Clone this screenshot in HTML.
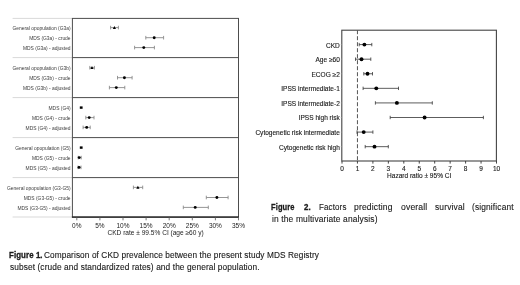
<!DOCTYPE html>
<html><head><meta charset="utf-8"><style>
html,body{margin:0;padding:0;background:#fff;}
body{width:520px;height:285px;overflow:hidden;position:relative;font-family:"Liberation Sans", sans-serif;will-change:transform;}
svg{position:absolute;left:0;top:0;font-family:"Liberation Sans", sans-serif;}
.cap{position:absolute;white-space:nowrap;font-size:8.3px;letter-spacing:0.1px;color:#1a1a1a;-webkit-text-stroke:0.12px #1a1a1a;line-height:1;transform-origin:0 0;}
.f2{font-size:8.9px;letter-spacing:0.15px;}
.cap b{font-weight:bold;-webkit-text-stroke:0.3px #1a1a1a;}
.w{position:absolute;white-space:nowrap;font-size:8.3px;color:#1a1a1a;line-height:1;}
</style></head><body>
<svg width="520" height="285" viewBox="0 0 520 285">
<line x1="12.6" y1="18.4" x2="72.4" y2="18.4" stroke="#d9d9d9" stroke-width="1"/>
<line x1="12.6" y1="57.6" x2="72.4" y2="57.6" stroke="#d9d9d9" stroke-width="1"/>
<line x1="12.6" y1="97.6" x2="72.4" y2="97.6" stroke="#d9d9d9" stroke-width="1"/>
<line x1="12.6" y1="137.6" x2="72.4" y2="137.6" stroke="#d9d9d9" stroke-width="1"/>
<line x1="12.6" y1="177.6" x2="72.4" y2="177.6" stroke="#d9d9d9" stroke-width="1"/>
<line x1="12.6" y1="217.0" x2="72.4" y2="217.0" stroke="#d9d9d9" stroke-width="1"/>
<rect x="72.4" y="18.4" width="166.1" height="198.6" fill="none" stroke="#4d4d4d" stroke-width="1"/>
<line x1="71.9" y1="217.0" x2="239.0" y2="217.0" stroke="#1e1e1e" stroke-width="1.25"/>
<line x1="72.4" y1="57.6" x2="238.5" y2="57.6" stroke="#4d4d4d" stroke-width="1"/>
<line x1="72.4" y1="97.6" x2="238.5" y2="97.6" stroke="#4d4d4d" stroke-width="1"/>
<line x1="72.4" y1="137.6" x2="238.5" y2="137.6" stroke="#4d4d4d" stroke-width="1"/>
<line x1="72.4" y1="177.6" x2="238.5" y2="177.6" stroke="#4d4d4d" stroke-width="1"/>
<line x1="76.80" y1="217.0" x2="76.80" y2="220.3" stroke="#555" stroke-width="0.8"/>
<text x="76.80" y="227.9" font-size="6.5" text-anchor="middle" fill="#222">0%</text>
<line x1="99.90" y1="217.0" x2="99.90" y2="220.3" stroke="#555" stroke-width="0.8"/>
<text x="99.90" y="227.9" font-size="6.5" text-anchor="middle" fill="#222">5%</text>
<line x1="123.00" y1="217.0" x2="123.00" y2="220.3" stroke="#555" stroke-width="0.8"/>
<text x="123.00" y="227.9" font-size="6.5" text-anchor="middle" fill="#222">10%</text>
<line x1="146.10" y1="217.0" x2="146.10" y2="220.3" stroke="#555" stroke-width="0.8"/>
<text x="146.10" y="227.9" font-size="6.5" text-anchor="middle" fill="#222">15%</text>
<line x1="169.20" y1="217.0" x2="169.20" y2="220.3" stroke="#555" stroke-width="0.8"/>
<text x="169.20" y="227.9" font-size="6.5" text-anchor="middle" fill="#222">20%</text>
<line x1="192.30" y1="217.0" x2="192.30" y2="220.3" stroke="#555" stroke-width="0.8"/>
<text x="192.30" y="227.9" font-size="6.5" text-anchor="middle" fill="#222">25%</text>
<line x1="215.40" y1="217.0" x2="215.40" y2="220.3" stroke="#555" stroke-width="0.8"/>
<text x="215.40" y="227.9" font-size="6.5" text-anchor="middle" fill="#222">30%</text>
<line x1="238.50" y1="217.0" x2="238.50" y2="220.3" stroke="#555" stroke-width="0.8"/>
<text x="238.50" y="227.9" font-size="6.5" text-anchor="middle" fill="#222">35%</text>
<text x="155.6" y="235.2" font-size="6.57" text-anchor="middle" fill="#222">CKD rate ± 99.5% CI (age ≥60 y)</text>
<text x="70.6" y="29.80" font-size="4.93" text-anchor="end" fill="#3c3c3c">General opopulation (G3a)</text>
<line x1="110.6" y1="27.6" x2="118.4" y2="27.6" stroke="#8a8a8a" stroke-width="0.9"/>
<line x1="110.6" y1="25.8" x2="110.6" y2="29.400000000000002" stroke="#8a8a8a" stroke-width="0.9"/>
<line x1="118.4" y1="25.8" x2="118.4" y2="29.400000000000002" stroke="#8a8a8a" stroke-width="0.9"/>
<polygon points="112.80000000000001,28.900000000000002 116.0,28.900000000000002 114.4,26.0" fill="#000"/>
<text x="70.6" y="39.90" font-size="4.93" text-anchor="end" fill="#3c3c3c">MDS (G3a) - crude</text>
<line x1="145.8" y1="37.7" x2="163.6" y2="37.7" stroke="#8a8a8a" stroke-width="0.9"/>
<line x1="145.8" y1="35.900000000000006" x2="145.8" y2="39.5" stroke="#8a8a8a" stroke-width="0.9"/>
<line x1="163.6" y1="35.900000000000006" x2="163.6" y2="39.5" stroke="#8a8a8a" stroke-width="0.9"/>
<circle cx="154.2" cy="37.7" r="1.45" fill="#000"/>
<text x="70.6" y="49.80" font-size="4.93" text-anchor="end" fill="#3c3c3c">MDS (G3a) - adjusted</text>
<line x1="134.6" y1="47.6" x2="154.4" y2="47.6" stroke="#8a8a8a" stroke-width="0.9"/>
<line x1="134.6" y1="45.800000000000004" x2="134.6" y2="49.4" stroke="#8a8a8a" stroke-width="0.9"/>
<line x1="154.4" y1="45.800000000000004" x2="154.4" y2="49.4" stroke="#8a8a8a" stroke-width="0.9"/>
<circle cx="143.8" cy="47.6" r="1.45" fill="#000"/>
<text x="70.6" y="69.90" font-size="4.93" text-anchor="end" fill="#3c3c3c">General opopulation (G3b)</text>
<line x1="89.8" y1="67.7" x2="94.4" y2="67.7" stroke="#8a8a8a" stroke-width="0.9"/>
<line x1="89.8" y1="65.9" x2="89.8" y2="69.5" stroke="#8a8a8a" stroke-width="0.9"/>
<line x1="94.4" y1="65.9" x2="94.4" y2="69.5" stroke="#8a8a8a" stroke-width="0.9"/>
<polygon points="90.4,69.0 93.6,69.0 92.0,66.10000000000001" fill="#000"/>
<text x="70.6" y="79.90" font-size="4.93" text-anchor="end" fill="#3c3c3c">MDS (G3b) - crude</text>
<line x1="117.5" y1="77.7" x2="132.1" y2="77.7" stroke="#8a8a8a" stroke-width="0.9"/>
<line x1="117.5" y1="75.9" x2="117.5" y2="79.5" stroke="#8a8a8a" stroke-width="0.9"/>
<line x1="132.1" y1="75.9" x2="132.1" y2="79.5" stroke="#8a8a8a" stroke-width="0.9"/>
<circle cx="124.4" cy="77.7" r="1.45" fill="#000"/>
<text x="70.6" y="89.80" font-size="4.93" text-anchor="end" fill="#3c3c3c">MDS (G3b) - adjusted</text>
<line x1="109.4" y1="87.6" x2="124.8" y2="87.6" stroke="#8a8a8a" stroke-width="0.9"/>
<line x1="109.4" y1="85.8" x2="109.4" y2="89.39999999999999" stroke="#8a8a8a" stroke-width="0.9"/>
<line x1="124.8" y1="85.8" x2="124.8" y2="89.39999999999999" stroke="#8a8a8a" stroke-width="0.9"/>
<circle cx="116.3" cy="87.6" r="1.45" fill="#000"/>
<text x="70.6" y="109.80" font-size="4.93" text-anchor="end" fill="#3c3c3c">MDS (G4)</text>
<rect x="79.8" y="106.39999999999999" width="2.8" height="2.4" fill="#000"/>
<text x="70.6" y="119.80" font-size="4.93" text-anchor="end" fill="#3c3c3c">MDS (G4) - crude</text>
<line x1="85.8" y1="117.6" x2="94.0" y2="117.6" stroke="#8a8a8a" stroke-width="0.9"/>
<line x1="85.8" y1="115.8" x2="85.8" y2="119.39999999999999" stroke="#8a8a8a" stroke-width="0.9"/>
<line x1="94.0" y1="115.8" x2="94.0" y2="119.39999999999999" stroke="#8a8a8a" stroke-width="0.9"/>
<circle cx="89.2" cy="117.6" r="1.45" fill="#000"/>
<text x="70.6" y="129.60" font-size="4.93" text-anchor="end" fill="#3c3c3c">MDS (G4) - adjusted</text>
<line x1="83.1" y1="127.4" x2="90.2" y2="127.4" stroke="#8a8a8a" stroke-width="0.9"/>
<line x1="83.1" y1="125.60000000000001" x2="83.1" y2="129.20000000000002" stroke="#8a8a8a" stroke-width="0.9"/>
<line x1="90.2" y1="125.60000000000001" x2="90.2" y2="129.20000000000002" stroke="#8a8a8a" stroke-width="0.9"/>
<circle cx="86.7" cy="127.4" r="1.45" fill="#000"/>
<text x="70.6" y="149.80" font-size="4.93" text-anchor="end" fill="#3c3c3c">General opopulation (G5)</text>
<rect x="79.8" y="146.4" width="2.8" height="2.4" fill="#000"/>
<text x="70.6" y="159.80" font-size="4.93" text-anchor="end" fill="#3c3c3c">MDS (G5) - crude</text>
<line x1="78.2" y1="157.6" x2="81.2" y2="157.6" stroke="#8a8a8a" stroke-width="0.9"/>
<line x1="78.2" y1="155.79999999999998" x2="78.2" y2="159.4" stroke="#8a8a8a" stroke-width="0.9"/>
<line x1="81.2" y1="155.79999999999998" x2="81.2" y2="159.4" stroke="#8a8a8a" stroke-width="0.9"/>
<circle cx="79.2" cy="157.6" r="1.45" fill="#000"/>
<text x="70.6" y="169.60" font-size="4.93" text-anchor="end" fill="#3c3c3c">MDS (G5) - adjusted</text>
<line x1="78.0" y1="167.4" x2="81.0" y2="167.4" stroke="#8a8a8a" stroke-width="0.9"/>
<line x1="78.0" y1="165.6" x2="78.0" y2="169.20000000000002" stroke="#8a8a8a" stroke-width="0.9"/>
<line x1="81.0" y1="165.6" x2="81.0" y2="169.20000000000002" stroke="#8a8a8a" stroke-width="0.9"/>
<circle cx="79.0" cy="167.4" r="1.45" fill="#000"/>
<text x="70.6" y="189.60" font-size="4.93" text-anchor="end" fill="#3c3c3c">General opopulation (G3-G5)</text>
<line x1="133.4" y1="187.4" x2="142.7" y2="187.4" stroke="#8a8a8a" stroke-width="0.9"/>
<line x1="133.4" y1="185.6" x2="133.4" y2="189.20000000000002" stroke="#8a8a8a" stroke-width="0.9"/>
<line x1="142.7" y1="185.6" x2="142.7" y2="189.20000000000002" stroke="#8a8a8a" stroke-width="0.9"/>
<polygon points="136.3,188.70000000000002 139.5,188.70000000000002 137.9,185.8" fill="#000"/>
<text x="70.6" y="199.70" font-size="4.93" text-anchor="end" fill="#3c3c3c">MDS (G3-G5) - crude</text>
<line x1="206.3" y1="197.5" x2="228.1" y2="197.5" stroke="#8a8a8a" stroke-width="0.9"/>
<line x1="206.3" y1="195.7" x2="206.3" y2="199.3" stroke="#8a8a8a" stroke-width="0.9"/>
<line x1="228.1" y1="195.7" x2="228.1" y2="199.3" stroke="#8a8a8a" stroke-width="0.9"/>
<circle cx="216.9" cy="197.5" r="1.45" fill="#000"/>
<text x="70.6" y="209.60" font-size="4.93" text-anchor="end" fill="#3c3c3c">MDS (G3-G5) - adjusted</text>
<line x1="183.3" y1="207.4" x2="208.3" y2="207.4" stroke="#8a8a8a" stroke-width="0.9"/>
<line x1="183.3" y1="205.6" x2="183.3" y2="209.20000000000002" stroke="#8a8a8a" stroke-width="0.9"/>
<line x1="208.3" y1="205.6" x2="208.3" y2="209.20000000000002" stroke="#8a8a8a" stroke-width="0.9"/>
<circle cx="195.2" cy="207.4" r="1.45" fill="#000"/>
<rect x="341.8" y="30.2" width="154.59999999999997" height="130.8" fill="none" stroke="#444" stroke-width="1.1"/>
<line x1="357.45" y1="30.2" x2="357.45" y2="161.0" stroke="#555" stroke-width="1" stroke-dasharray="4 2"/>
<line x1="342.00" y1="161.0" x2="342.00" y2="163.6" stroke="#333" stroke-width="0.9"/>
<text x="342.00" y="170.6" font-size="6.5" text-anchor="middle" fill="#1a1a1a" stroke="#1a1a1a" stroke-width="0.12">0</text>
<line x1="357.45" y1="161.0" x2="357.45" y2="163.6" stroke="#333" stroke-width="0.9"/>
<text x="357.45" y="170.6" font-size="6.5" text-anchor="middle" fill="#1a1a1a" stroke="#1a1a1a" stroke-width="0.12">1</text>
<line x1="372.90" y1="161.0" x2="372.90" y2="163.6" stroke="#333" stroke-width="0.9"/>
<text x="372.90" y="170.6" font-size="6.5" text-anchor="middle" fill="#1a1a1a" stroke="#1a1a1a" stroke-width="0.12">2</text>
<line x1="388.35" y1="161.0" x2="388.35" y2="163.6" stroke="#333" stroke-width="0.9"/>
<text x="388.35" y="170.6" font-size="6.5" text-anchor="middle" fill="#1a1a1a" stroke="#1a1a1a" stroke-width="0.12">3</text>
<line x1="403.80" y1="161.0" x2="403.80" y2="163.6" stroke="#333" stroke-width="0.9"/>
<text x="403.80" y="170.6" font-size="6.5" text-anchor="middle" fill="#1a1a1a" stroke="#1a1a1a" stroke-width="0.12">4</text>
<line x1="419.25" y1="161.0" x2="419.25" y2="163.6" stroke="#333" stroke-width="0.9"/>
<text x="419.25" y="170.6" font-size="6.5" text-anchor="middle" fill="#1a1a1a" stroke="#1a1a1a" stroke-width="0.12">5</text>
<line x1="434.70" y1="161.0" x2="434.70" y2="163.6" stroke="#333" stroke-width="0.9"/>
<text x="434.70" y="170.6" font-size="6.5" text-anchor="middle" fill="#1a1a1a" stroke="#1a1a1a" stroke-width="0.12">6</text>
<line x1="450.15" y1="161.0" x2="450.15" y2="163.6" stroke="#333" stroke-width="0.9"/>
<text x="450.15" y="170.6" font-size="6.5" text-anchor="middle" fill="#1a1a1a" stroke="#1a1a1a" stroke-width="0.12">7</text>
<line x1="465.60" y1="161.0" x2="465.60" y2="163.6" stroke="#333" stroke-width="0.9"/>
<text x="465.60" y="170.6" font-size="6.5" text-anchor="middle" fill="#1a1a1a" stroke="#1a1a1a" stroke-width="0.12">8</text>
<line x1="481.05" y1="161.0" x2="481.05" y2="163.6" stroke="#333" stroke-width="0.9"/>
<text x="481.05" y="170.6" font-size="6.5" text-anchor="middle" fill="#1a1a1a" stroke="#1a1a1a" stroke-width="0.12">9</text>
<line x1="496.50" y1="161.0" x2="496.50" y2="163.6" stroke="#333" stroke-width="0.9"/>
<text x="496.50" y="170.6" font-size="6.5" text-anchor="middle" fill="#1a1a1a" stroke="#1a1a1a" stroke-width="0.12">10</text>
<text x="419.2" y="177.6" font-size="6.54" text-anchor="middle" fill="#1a1a1a" stroke="#1a1a1a" stroke-width="0.12">Hazard ratio ± 95% CI</text>
<line x1="340.8" y1="44.60" x2="341.8" y2="44.60" stroke="#999" stroke-width="0.7"/>
<text x="339.8" y="47.50" font-size="6.55" text-anchor="end" fill="#1a1a1a" stroke="#1a1a1a" stroke-width="0.12">CKD</text>
<line x1="359.2" y1="44.60" x2="371.8" y2="44.60" stroke="#333" stroke-width="0.8"/>
<line x1="359.2" y1="42.90" x2="359.2" y2="46.30" stroke="#333" stroke-width="0.8"/>
<line x1="371.8" y1="42.90" x2="371.8" y2="46.30" stroke="#333" stroke-width="0.8"/>
<circle cx="364.4" cy="44.60" r="1.95" fill="#000"/>
<line x1="340.8" y1="59.18" x2="341.8" y2="59.18" stroke="#999" stroke-width="0.7"/>
<text x="339.8" y="62.08" font-size="6.55" text-anchor="end" fill="#1a1a1a" stroke="#1a1a1a" stroke-width="0.12">Age ≥60</text>
<line x1="355.5" y1="59.18" x2="370.8" y2="59.18" stroke="#333" stroke-width="0.8"/>
<line x1="355.5" y1="57.48" x2="355.5" y2="60.88" stroke="#333" stroke-width="0.8"/>
<line x1="370.8" y1="57.48" x2="370.8" y2="60.88" stroke="#333" stroke-width="0.8"/>
<circle cx="361.5" cy="59.18" r="1.95" fill="#000"/>
<line x1="340.8" y1="73.76" x2="341.8" y2="73.76" stroke="#999" stroke-width="0.7"/>
<text x="339.8" y="76.66" font-size="6.55" text-anchor="end" fill="#1a1a1a" stroke="#1a1a1a" stroke-width="0.12">ECOG ≥2</text>
<line x1="363.8" y1="73.76" x2="372.5" y2="73.76" stroke="#333" stroke-width="0.8"/>
<line x1="363.8" y1="72.06" x2="363.8" y2="75.46" stroke="#333" stroke-width="0.8"/>
<line x1="372.5" y1="72.06" x2="372.5" y2="75.46" stroke="#333" stroke-width="0.8"/>
<circle cx="367.5" cy="73.76" r="1.95" fill="#000"/>
<line x1="340.8" y1="88.34" x2="341.8" y2="88.34" stroke="#999" stroke-width="0.7"/>
<text x="339.8" y="91.24" font-size="6.55" text-anchor="end" fill="#1a1a1a" stroke="#1a1a1a" stroke-width="0.12">IPSS intermediate-1</text>
<line x1="363.1" y1="88.34" x2="398.5" y2="88.34" stroke="#333" stroke-width="0.8"/>
<line x1="363.1" y1="86.64" x2="363.1" y2="90.04" stroke="#333" stroke-width="0.8"/>
<line x1="398.5" y1="86.64" x2="398.5" y2="90.04" stroke="#333" stroke-width="0.8"/>
<circle cx="376.3" cy="88.34" r="1.95" fill="#000"/>
<line x1="340.8" y1="102.92" x2="341.8" y2="102.92" stroke="#999" stroke-width="0.7"/>
<text x="339.8" y="105.82" font-size="6.55" text-anchor="end" fill="#1a1a1a" stroke="#1a1a1a" stroke-width="0.12">IPSS intermediate-2</text>
<line x1="375.4" y1="102.92" x2="432.3" y2="102.92" stroke="#333" stroke-width="0.8"/>
<line x1="375.4" y1="101.22" x2="375.4" y2="104.62" stroke="#333" stroke-width="0.8"/>
<line x1="432.3" y1="101.22" x2="432.3" y2="104.62" stroke="#333" stroke-width="0.8"/>
<circle cx="396.9" cy="102.92" r="1.95" fill="#000"/>
<line x1="340.8" y1="117.50" x2="341.8" y2="117.50" stroke="#999" stroke-width="0.7"/>
<text x="339.8" y="120.40" font-size="6.55" text-anchor="end" fill="#1a1a1a" stroke="#1a1a1a" stroke-width="0.12">IPSS high risk</text>
<line x1="390.2" y1="117.50" x2="483.4" y2="117.50" stroke="#333" stroke-width="0.8"/>
<line x1="390.2" y1="115.80" x2="390.2" y2="119.20" stroke="#333" stroke-width="0.8"/>
<line x1="483.4" y1="115.80" x2="483.4" y2="119.20" stroke="#333" stroke-width="0.8"/>
<circle cx="424.6" cy="117.50" r="1.95" fill="#000"/>
<line x1="340.8" y1="132.08" x2="341.8" y2="132.08" stroke="#999" stroke-width="0.7"/>
<text x="339.8" y="134.98" font-size="6.55" text-anchor="end" fill="#1a1a1a" stroke="#1a1a1a" stroke-width="0.12">Cytogenetic risk intermediate</text>
<line x1="357.0" y1="132.08" x2="372.9" y2="132.08" stroke="#333" stroke-width="0.8"/>
<line x1="357.0" y1="130.38" x2="357.0" y2="133.78" stroke="#333" stroke-width="0.8"/>
<line x1="372.9" y1="130.38" x2="372.9" y2="133.78" stroke="#333" stroke-width="0.8"/>
<circle cx="363.7" cy="132.08" r="1.95" fill="#000"/>
<line x1="340.8" y1="146.66" x2="341.8" y2="146.66" stroke="#999" stroke-width="0.7"/>
<text x="339.8" y="149.56" font-size="6.55" text-anchor="end" fill="#1a1a1a" stroke="#1a1a1a" stroke-width="0.12">Cytogenetic risk high</text>
<line x1="365.2" y1="146.66" x2="388.3" y2="146.66" stroke="#333" stroke-width="0.8"/>
<line x1="365.2" y1="144.96" x2="365.2" y2="148.36" stroke="#333" stroke-width="0.8"/>
<line x1="388.3" y1="144.96" x2="388.3" y2="148.36" stroke="#333" stroke-width="0.8"/>
<circle cx="374.5" cy="146.66" r="1.95" fill="#000"/>
</svg>
<div class="cap" id="c1a" style="left:9.39px;top:251.00px;transform:scaleX(0.9478)"><b>Figure 1.</b></div>
<div class="cap" id="c1" style="left:44.49px;top:251.00px;transform:scaleX(0.9949)">Comparison of CKD prevalence between the present study MDS Registry</div>
<div class="cap" id="c2" style="left:9.71px;top:262.90px;transform:scaleX(1.0020)">subset (crude and standardized rates) and the general population.</div>
<div class="cap f2" id="w1" style="left:270.95px;top:202.55px;transform:scaleX(0.8440)"><b>Figure</b></div>
<div class="cap f2" id="w2" style="left:303.58px;top:202.55px;transform:scaleX(0.8929)"><b>2.</b></div>
<div class="cap f2" id="w3" style="left:318.58px;top:202.55px;transform:scaleX(0.8983)">Factors</div>
<div class="cap f2" id="w4" style="left:354.36px;top:202.55px;transform:scaleX(0.9652)">predicting</div>
<div class="cap f2" id="w5" style="left:401.14px;top:202.55px;transform:scaleX(0.9714)">overall</div>
<div class="cap f2" id="w6" style="left:435.22px;top:202.55px;transform:scaleX(0.9504)">survival</div>
<div class="cap f2" id="w7" style="left:472.12px;top:202.55px;transform:scaleX(0.9429)">(significant</div>
<div class="cap f2" id="c3" style="left:272.49px;top:215.45px;transform:scaleX(0.9478)">in the multivariate analysis)</div>
</body></html>
